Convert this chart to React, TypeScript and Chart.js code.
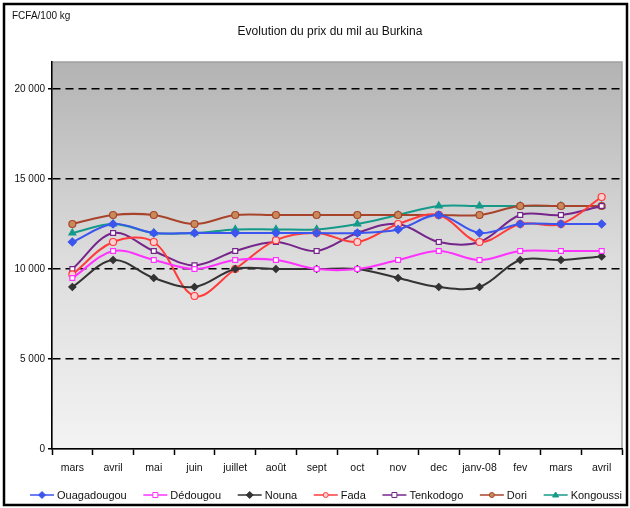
import React, { useEffect, useRef } from "react";
import { Chart, registerables } from "chart.js";

Chart.register(...registerables);

const categories = ["mars", "avril", "mai", "juin", "juillet", "août", "sept", "oct", "nov", "dec", "janv-08", "fev", "mars", "avril"];

const ouagadougou = [11500, 12500, 12000, 12000, 12000, 12000, 12000, 12000, 12200, 13000, 12000, 12500, 12500, 12500];
const dedougou = [9500, 11000, 10500, 10000, 10500, 10500, 10000, 10000, 10500, 11000, 10500, 11000, 11000, 11000];
const nouna = [9000, 10500, 9500, 9000, 10000, 10000, 10000, 10000, 9500, 9000, 9000, 10500, 10500, 10700];
const fada = [9700, 11500, 11500, 8500, 10000, 11600, 12000, 11500, 12500, 13000, 11500, 12500, 12500, 14000];
const tenkodogo = [10000, 12000, 11000, 10200, 11000, 11500, 11000, 12000, 12500, 11500, 11500, 13000, 13000, 13500];
const dori = [12500, 13000, 13000, 12500, 13000, 13000, 13000, 13000, 13000, 13000, 13000, 13500, 13500, 13500];
const kongoussi = [12000, 12500, 12000, 12000, 12200, 12200, 12200, 12500, 13000, 13500, 13500, 13500, 13500, 13500];

const seriesNames = ["Ouagadougou", "Dédougou", "Nouna", "Fada", "Tenkodogo", "Dori", "Kongoussi"];
const yTicks = [0, 5000, 10000, 15000, 20000];

const titleText = "Evolution du prix du mil au Burkina";
const unitText = "FCFA/100 kg";

const FONT = "'Liberation Sans Narrow', 'Liberation Sans', Arial, sans-serif";

const styles = [
  { color: "#3b55ee", point: "rectRot", bg: "#3b55ee", r: 4 },
  { color: "#ff33ff", point: "rect", bg: "#ffffff", r: 3.5 },
  { color: "#333333", point: "rectRot", bg: "#333333", r: 3.5 },
  { color: "#ff3b3b", point: "circle", bg: "#ffd0d0", r: 3.5 },
  { color: "#76258a", point: "rect", bg: "#ffffff", r: 3.5 },
  { color: "#a8442c", point: "circle", bg: "#c98a5a", r: 3.5 },
  { color: "#159a8a", point: "triangle", bg: "#159a8a", r: 4 },
];

const fmt = (v: number) => {
  const s = String(v);
  return s.length > 3 ? s.slice(0, s.length - 3) + " " + s.slice(-3) : s;
};

export default function App() {
  const ref = useRef<HTMLCanvasElement>(null);
  useEffect(() => {
    document.body.style.margin = "0";
    const values = [ouagadougou, dedougou, nouna, fada, tenkodogo, dori, kongoussi];
    const decor = {
      id: "decor",
      beforeDraw(chart: any) {
        const { ctx, chartArea: a } = chart;
        ctx.save();
        ctx.fillStyle = "#ffffff";
        ctx.fillRect(0, 0, chart.width, chart.height);
        const g = ctx.createLinearGradient(0, a.top, 0, a.bottom);
        g.addColorStop(0, "#b3b3b3");
        g.addColorStop(0.5, "#dcdcdc");
        g.addColorStop(1, "#f3f3f3");
        ctx.fillStyle = g;
        ctx.fillRect(a.left, a.top, a.right - a.left, a.bottom - a.top);
        ctx.strokeStyle = "#a0a0a0";
        ctx.lineWidth = 1.5;
        ctx.strokeRect(a.left, a.top, a.right - a.left, a.bottom - a.top);
        ctx.restore();
      },
      afterDraw(chart: any) {
        const { ctx } = chart;
        ctx.save();
        ctx.strokeStyle = "#000";
        ctx.lineWidth = 2.5;
        ctx.strokeRect(4, 4, 623, 501);
        ctx.fillStyle = "#111";
        ctx.textBaseline = "middle";
        ctx.font = `10px ${FONT}`;
        ctx.textAlign = "left";
        ctx.fillText(unitText, 12, 16);
        ctx.font = `12px ${FONT}`;
        ctx.textAlign = "center";
        ctx.fillText(titleText, 330, 32);
        ctx.font = `11px ${FONT}`;
        const lineW = 24;
        const gapT = 3;
        const widths = seriesNames.map((n) => lineW + gapT + ctx.measureText(n).width);
        const total = widths.reduce((s, w) => s + w, 0);
        const start = 30, end = 622;
        const gap = (end - start - total) / (seriesNames.length - 1);
        let x = start;
        const y = 495;
        chart.data.datasets.forEach((ds: any, i: number) => {
          const st = styles[i];
          ctx.strokeStyle = st.color;
          ctx.lineWidth = 1.5;
          ctx.beginPath();
          ctx.moveTo(x, y);
          ctx.lineTo(x + lineW, y);
          ctx.stroke();
          ctx.fillStyle = st.bg;
          ctx.lineWidth = 1;
          ctx.beginPath();
          const cx = x + lineW / 2, r = 3;
          if (st.point === "rectRot") {
            ctx.moveTo(cx, y - r - 0.5); ctx.lineTo(cx + r + 0.5, y); ctx.lineTo(cx, y + r + 0.5); ctx.lineTo(cx - r - 0.5, y); ctx.closePath();
          } else if (st.point === "rect") {
            ctx.rect(cx - r + 0.5, y - r + 0.5, 2 * r - 1, 2 * r - 1);
          } else if (st.point === "triangle") {
            ctx.moveTo(cx, y - r); ctx.lineTo(cx + r, y + r - 1); ctx.lineTo(cx - r, y + r - 1); ctx.closePath();
          } else {
            ctx.arc(cx, y, r - 0.5, 0, Math.PI * 2);
          }
          ctx.fill();
          ctx.stroke();
          ctx.fillStyle = "#111";
          ctx.textAlign = "left";
          ctx.fillText(ds.label, x + lineW + gapT, y + 0.5);
          x += widths[i] + gap;
        });
        ctx.restore();
      },
    };
    const chart = new Chart(ref.current!, {
      type: "line",
      data: {
        labels: categories,
        datasets: values.map((v, i) => ({
          label: seriesNames[i],
          data: v,
          borderColor: styles[i].color,
          backgroundColor: styles[i].bg,
          pointBackgroundColor: styles[i].bg,
          pointBorderColor: styles[i].color,
          pointStyle: styles[i].point as any,
          pointRadius: styles[i].r,
          pointBorderWidth: 1.2,
          borderWidth: 2,
          tension: 0.35,
          fill: false,
        })),
      },
      options: {
        animation: false,
        responsive: false,
        maintainAspectRatio: false,
        layout: { padding: { top: 62, right: 8, left: 0, bottom: 0 } },
        plugins: { legend: { display: false }, title: { display: false }, tooltip: { enabled: false } },
        scales: {
          x: {
            type: "category",
            offset: true,
            grid: { display: true, offset: true, drawOnChartArea: false, drawTicks: true, tickLength: 6, tickColor: "#000", tickWidth: 1.5 },
            border: { display: true, color: "#000", width: 1.5 },
            ticks: { color: "#111", font: { family: FONT, size: 10.5 }, maxRotation: 0, autoSkip: false, padding: 7 },
            afterFit(scale: any) { scale.height = 59; },
          },
          y: {
            min: 0,
            max: 21500,
            afterBuildTicks(scale: any) { scale.ticks = yTicks.map((v) => ({ value: v })); },
            grid: {
              color: (c: any) => (c.tick && c.tick.value === 0 ? "rgba(0,0,0,0)" : "#000"),
              lineWidth: 1.5,
              drawTicks: true,
              tickLength: 4,
              tickColor: "#000",
              tickWidth: 1.5,
              tickBorderDash: [0, 0],
            },
            border: { display: true, color: "#000", width: 1.5, dash: [8, 5] },
            ticks: { color: "#111", font: { family: FONT, size: 10 }, padding: 3, callback: (v: any) => fmt(Number(v)) },
            afterFit(scale: any) { scale.width = 52; },
          },
        },
      },
      plugins: [decor],
    });
    return () => chart.destroy();
  }, []);
  return <canvas ref={ref} width={630} height={508} style={{ display: "block" }} />;
}
